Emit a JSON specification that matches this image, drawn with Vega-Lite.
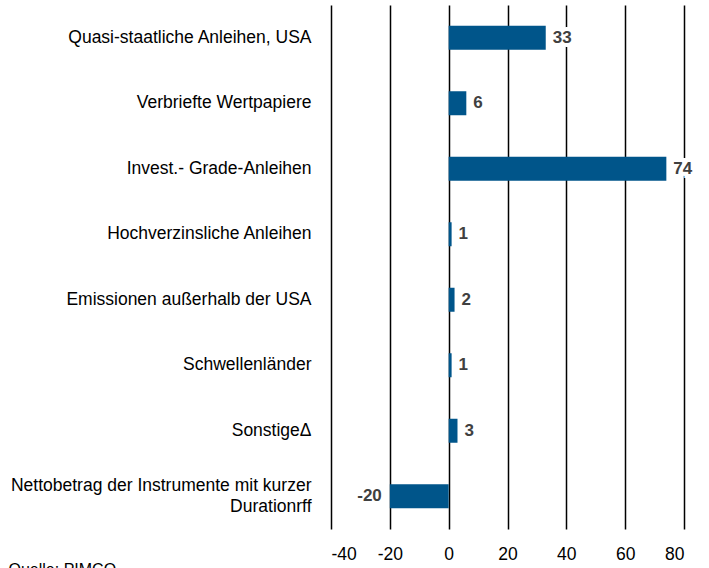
{
  "$schema": "https://vega.github.io/schema/vega-lite/v6.json",
  "autosize": {"type": "none"},
  "width": 353,
  "height": 524,
  "padding": {"left": 331, "top": 5, "right": 25, "bottom": 39},
  "background": "white",
  "config": {"view": {"stroke": null}, "font": "Liberation Sans"},
  "data": {
    "values": [
      {"category": "Quasi-staatliche Anleihen, USA", "value": 33},
      {"category": "Verbriefte Wertpapiere", "value": 6},
      {"category": "Invest.- Grade-Anleihen", "value": 74},
      {"category": "Hochverzinsliche Anleihen", "value": 1},
      {"category": "Emissionen außerhalb der USA", "value": 2},
      {"category": "Schwellenländer", "value": 1},
      {"category": "SonstigeΔ", "value": 3},
      {"category": "Nettobetrag der Instrumente mit kurzer Durationrff", "value": -20}
    ]
  },
  "encoding": {
    "y": {
      "field": "category",
      "type": "nominal",
      "sort": null,
      "scale": {"paddingInner": 0, "paddingOuter": 0},
      "axis": {
        "title": null,
        "domain": false,
        "ticks": false,
        "labelPadding": 20,
        "labelFontSize": 17.5,
        "labelColor": "#000000",
        "labelFont": "Liberation Sans",
        "labelLimit": 400,
        "labelLineHeight": 21,
        "labelOffset": {"condition": {"test": "indexof(datum.value, 'Nettobetrag') == 0", "value": -10}, "value": 0},
        "labelExpr": "datum.label == 'Nettobetrag der Instrumente mit kurzer Durationrff' ? ['Nettobetrag der Instrumente mit kurzer', 'Durationrff'] : datum.label"
      }
    },
    "x": {
      "field": "value",
      "type": "quantitative",
      "scale": {"domain": [-40, 80], "nice": false},
      "axis": {
        "title": "Quelle: PIMCO",
        "titleAnchor": "start",
        "titleAlign": "left",
        "titleBaseline": "top",
        "titleX": -323,
        "titleY": 32,
        "titleFont": "Liberation Sans",
        "titleFontSize": 16,
        "titleFontWeight": "normal",
        "titleColor": "#000000",
        "values": [-40, -20, 0, 20, 40, 60, 80],
        "domain": false,
        "ticks": false,
        "grid": true,
        "gridColor": "#000000",
        "gridWidth": 1.5,
        "gridOpacity": 1,
        "labelPadding": 16,
        "labelFontSize": 17.5,
        "labelColor": "#000000",
        "labelFont": "Liberation Sans",
        "labelExpr": "'' + datum.value"
      }
    }
  },
  "layer": [
    {"mark": {"type": "bar", "size": 24, "color": "#00558A"}},
    {
      "transform": [{"filter": "datum.value >= 0"}],
      "mark": {"type": "text", "align": "left", "baseline": "middle", "dx": 7, "fontSize": 17, "fontWeight": "bold", "stroke": "white", "strokeWidth": 8, "color": "white", "font": "Liberation Sans"},
      "encoding": {"text": {"field": "value"}}
    },
    {
      "transform": [{"filter": "datum.value >= 0"}],
      "mark": {"type": "text", "align": "left", "baseline": "middle", "dx": 7, "fontSize": 17, "fontWeight": "bold", "color": "#404040", "font": "Liberation Sans"},
      "encoding": {"text": {"field": "value"}}
    },
    {
      "transform": [{"filter": "datum.value < 0"}],
      "mark": {"type": "text", "align": "right", "baseline": "middle", "dx": -8, "fontSize": 17, "fontWeight": "bold", "color": "#404040", "font": "Liberation Sans"},
      "encoding": {"text": {"field": "value"}}
    }
  ]
}
